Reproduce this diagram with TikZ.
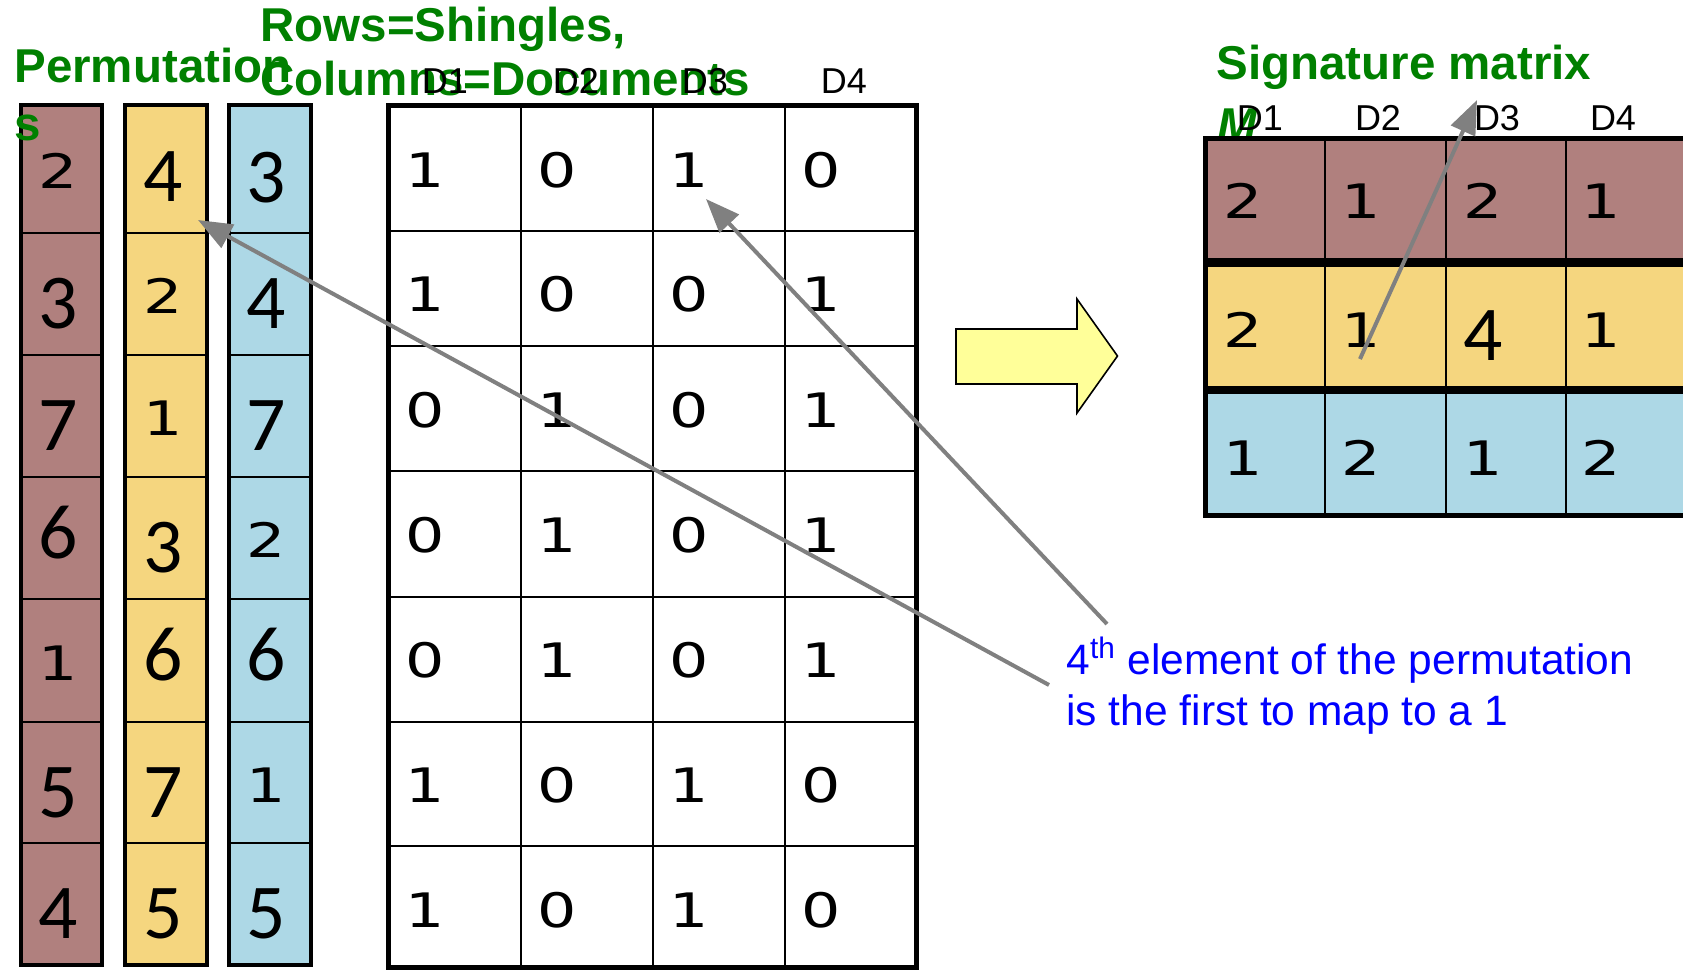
\documentclass[tikz,border=0pt]{standalone}
\usepackage{graphicx}
\usepackage{fontspec}
\setmainfont{Liberation Sans}
\newfontfamily\carlitofont{Carlito}
\newfontfamily\dejavufont{DejaVu Sans}
\usetikzlibrary{arrows.meta}
\definecolor{permbrown}{RGB}{176,128,126}
\definecolor{permyellow}{RGB}{245,214,127}
\definecolor{permblue}{RGB}{173,216,230}
\definecolor{titlegreen}{RGB}{0,128,0}
\definecolor{noteblue}{RGB}{0,0,255}
\definecolor{arrowgray}{RGB}{128,128,128}
\definecolor{blockyellow}{RGB}{255,255,153}
% two digit faces: a wide small one and a tall narrow one
\newcommand\digitS[1]{{\dejavufont\fontsize{23.75pt}{23.75pt}\selectfont\scalebox{1.3}[1]{#1}}}
\newcommand\digitB[1]{{\carlitofont\fontsize{38.8pt}{38.8pt}\selectfont #1}}
\begin{document}
\begin{tikzpicture}[x=0.5pt,y=-0.5pt,
  cellbox/.style={draw=black, line width=1pt, inner sep=0pt, outer sep=0pt},
  outline/.style={draw=black, line width=2.3pt},
  digit/.style={inner sep=0pt, anchor=base},
  title/.style={inner sep=0pt, anchor=base west, text=titlegreen, font=\bfseries\fontsize{23.75pt}{23.75pt}\selectfont},
  header/.style={inner sep=0pt, anchor=base, font=\fontsize{18pt}{18pt}\selectfont},
  note/.style={inner sep=0pt, anchor=base west, text=noteblue, font=\fontsize{21.25pt}{21.25pt}\selectfont},
  pointer/.style={draw=arrowgray, line width=2pt, -{Triangle[length=17pt,width=13pt]}},
]
\useasboundingbox (0,0) rectangle (1683,970);

% matrix name, partly hidden behind the signature rows
\node[title, font=\bfseries\itshape\fontsize{23.75pt}{23.75pt}\selectfont] (sigM) at (1217,141) {M};

% ---- permutation columns ----
\foreach \pc/\xl/\xr/\clr in {b/21/102/permbrown, y/125/207/permyellow, c/229/311/permblue} {
  \foreach \t/\bt [count=\r] in {105/233,233/355,355/477,477/599,599/722,722/843,843/965} {
    \node[cellbox, fill=\clr, minimum width={(\xr-\xl)*0.5pt}, minimum height={(\bt-\t)*0.5pt}]
      (p\pc-\r) at ({(\xl+\xr)/2},{(\t+\bt)/2}) {};
  }
  \draw[outline] (\xl,105) rectangle (\xr,965);
}
\foreach \v/\k/\yb [count=\r] in {2/\digitS/188, 3/\digitB/328, 7/\digitB/450, 6/\digitB/558, 1/\digitS/680, 5/\digitB/817, 4/\digitB/938}
  \node[digit] (pbd-\r) at (58,\yb) {\k{\v}};
\foreach \v/\k/\yb [count=\r] in {4/\digitB/201, 2/\digitS/313, 1/\digitS/435, 3/\digitB/572, 6/\digitB/680, 7/\digitB/817, 5/\digitB/938}
  \node[digit] (pyd-\r) at (163,\yb) {\k{\v}};
\foreach \v/\k/\yb [count=\r] in {3/\digitB/202, 4/\digitB/328, 7/\digitB/450, 2/\digitS/557, 6/\digitB/680, 1/\digitS/802, 5/\digitB/938}
  \node[digit] (pcd-\r) at (266,\yb) {\k{\v}};

% ---- input matrix (rows = shingles, columns = documents) ----
\foreach \t/\bt [count=\r] in {105/231,231/346,346/471,471/597,597/722,722/846,846/967} {
  \foreach \xl/\xr [count=\c] in {388.5/520.5,520.5/652.6,652.6/784.6,784.6/916.6} {
    \node[cellbox, fill=white, minimum width={(\xr-\xl)*0.5pt}, minimum height={(\bt-\t)*0.5pt}]
      (m-\r-\c) at ({(\xl+\xr)/2},{(\t+\bt)/2}) {};
  }
}
\draw[outline, line width=2.5pt] (388.5,105) rectangle (916.6,967);
\foreach \yb/\va/\vb/\vc/\vd [count=\r] in {187/1/0/1/0, 311/1/0/0/1, 427/0/1/0/1, 552/0/1/0/1, 677/0/1/0/1, 802/1/0/1/0, 927/1/0/1/0} {
  \node[digit] (md-\r-1) at (425,\yb) {\digitS{\va}};
  \node[digit] (md-\r-2) at (557,\yb) {\digitS{\vb}};
  \node[digit] (md-\r-3) at (689,\yb) {\digitS{\vc}};
  \node[digit] (md-\r-4) at (821,\yb) {\digitS{\vd}};
}

% ---- signature matrix ----
\foreach \t/\bt/\clr [count=\r] in {138.5/260.3/permbrown, 264.8/388/permyellow, 391.5/515.5/permblue} {
  \foreach \xl/\xr [count=\c] in {1205.5/1325,1325/1446,1446/1566,1566/1690} {
    \node[cellbox, fill=\clr, minimum width={(\xr-\xl)*0.5pt}, minimum height={(\bt-\t)*0.5pt}]
      (s-\r-\c) at ({(\xl+\xr)/2},{(\t+\bt)/2}) {};
  }
  \draw[outline] (1205.5,\t) rectangle (1690,\bt);
}
\foreach \yb/\va/\vb/\vd [count=\r] in {218/2/1/1, 347/2/1/1, 475/1/2/2} {
  \node[digit] (sd-\r-1) at (1243,\yb) {\digitS{\va}};
  \node[digit] (sd-\r-2) at (1361,\yb) {\digitS{\vb}};
  \node[digit] (sd-\r-4) at (1601,\yb) {\digitS{\vd}};
}
\node[digit] (sd-1-3) at (1483,218) {\digitS{2}};
\node[digit] (sd-2-3) at (1483,360) {\digitB{4}};
\node[digit] (sd-3-3) at (1483,475) {\digitS{1}};

% ---- titles ----
\node[title] (ttlPerm) at (14,82) {Permutation};
\node[title] (ttlPermS) at (14,140) {s};
\node[title] (ttlRows) at (260,41) {Rows=Shingles,};
\node[title] (ttlCols) at (260,95) {Columns=Documents};
\node[title] (ttlSig) at (1216,79) {Signature matrix};

% ---- document headers ----
\foreach \x [count=\c] in {445,576,705,844}
  \node[header] (hm-\c) at (\x,93) {D\c};
\foreach \x [count=\c] in {1260,1378,1497,1613}
  \node[header] (hs-\c) at (\x,130) {D\c};

% ---- block arrow ----
\draw[fill=blockyellow, draw=black, line width=0.8pt]
  (956,329) -- (1077,329) -- (1077,299) -- (1117.5,356) -- (1077,413) -- (1077,384) -- (956,384) -- cycle;

% ---- note ----
\node[note] (note1) at (1066,674) {4\textsuperscript{th} element of the permutation};
\node[note] (note2) at (1066,725) {is the first to map to a 1};

% ---- pointers ----
\coordinate (srcA) at (1049,685);
\coordinate (srcB) at (1107,624);
\coordinate (tipA) at (198,220);
\coordinate (tipB) at (706,199);
\coordinate (srcC) at (1360,359);
\coordinate (tipC) at (1477,100);
\draw[pointer] (srcA) -- (tipA);
\draw[pointer] (srcB) -- (tipB);
\draw[pointer] (srcC) -- (tipC);
\end{tikzpicture}
\end{document}
